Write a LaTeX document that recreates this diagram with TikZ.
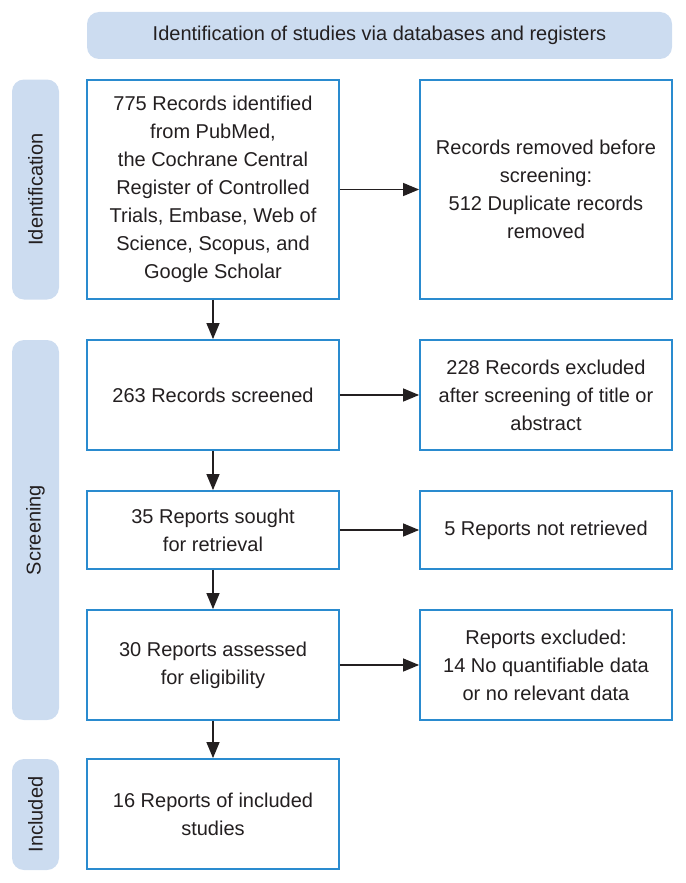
\documentclass[tikz,border=0pt]{standalone}
\usepackage{fontspec}
\setmainfont{Liberation Sans}
\usetikzlibrary{positioning,arrows.meta}
\definecolor{prismablue}{HTML}{2A8BCF}
\definecolor{phasefill}{HTML}{CCDCF0}
\definecolor{inkgray}{HTML}{231F20}
\tikzset{
  box/.style={draw=prismablue, line width=1.8pt, fill=white, align=center, text=inkgray,
              font=\fontsize{20}{28}\selectfont, inner sep=4pt, minimum width=252pt},
  phase/.style={fill=phasefill, rounded corners=12pt, text=inkgray, align=center,
                font=\fontsize{20}{28}\selectfont, inner sep=0pt},
  flow/.style={-{Triangle[length=16pt, width=13pt]}, line width=1.3pt, draw=inkgray},
}

\begin{document}
\begin{tikzpicture}[x=1pt, y=-1pt, node distance=39.2pt and 79.2pt]
  \useasboundingbox (0,0) rectangle (685,883);
  \node[phase, minimum width=585pt, minimum height=47pt] (head) at (379.5,35.5)
    {Identification of studies via databases and registers};
  % left column
  \node[box, minimum height=219pt] (B1) at (213,189.5) {%
    775 Records identified\\ from PubMed,\\ the Cochrane Central\\ Register of Controlled\\
    Trials, Embase, Web of\\ Science, Scopus, and\\ Google Scholar};
  \node[box, minimum height=110pt, below=of B1] (B2) {263 Records screened};
  \node[box, minimum height=78pt, below=of B2] (B3) {35 Reports sought\\ for retrieval};
  \node[box, minimum height=110pt, below=of B3] (B4) {30 Reports assessed\\ for eligibility};
  \node[box, minimum height=110pt, below=37.2pt of B4] (B5) {16 Reports of included\\ studies};
  % right column
  \node[box, minimum height=219pt, right=of B1] (R1) {%
    Records removed before\\ screening:\\ 512 Duplicate records\\ removed};
  \node[box, minimum height=110pt, right=of B2] (R2) {%
    228 Records excluded\\ after screening of title or\\ abstract};
  \node[box, minimum height=78pt, right=of B3] (R3) {5 Reports not retrieved};
  \node[box, minimum height=110pt, right=of B4] (R4) {%
    Reports excluded:\\ 14 No quantifiable data\\ or no relevant data};
  % phases
  \node[phase, rotate=90, minimum width=220pt, minimum height=47pt] (P1) at (35.5,189.5) {Identification};
  \node[phase, rotate=90, minimum width=380pt, minimum height=47pt] (P2) at (35.5,530) {Screening};
  \node[phase, rotate=90, minimum width=111pt, minimum height=47pt] (P3) at (35.5,814.5) {Included};
  % arrows
  \draw[flow] (B1) -- (B2);
  \draw[flow] (B2) -- (B3);
  \draw[flow] (B3) -- (B4);
  \draw[flow] (B4) -- (B5);
  \draw[flow] (B1) -- (R1);
  \draw[flow] (B2) -- (R2);
  \draw[flow] (B3) -- (R3);
  \draw[flow] (B4) -- (R4);
\end{tikzpicture}
\end{document}
